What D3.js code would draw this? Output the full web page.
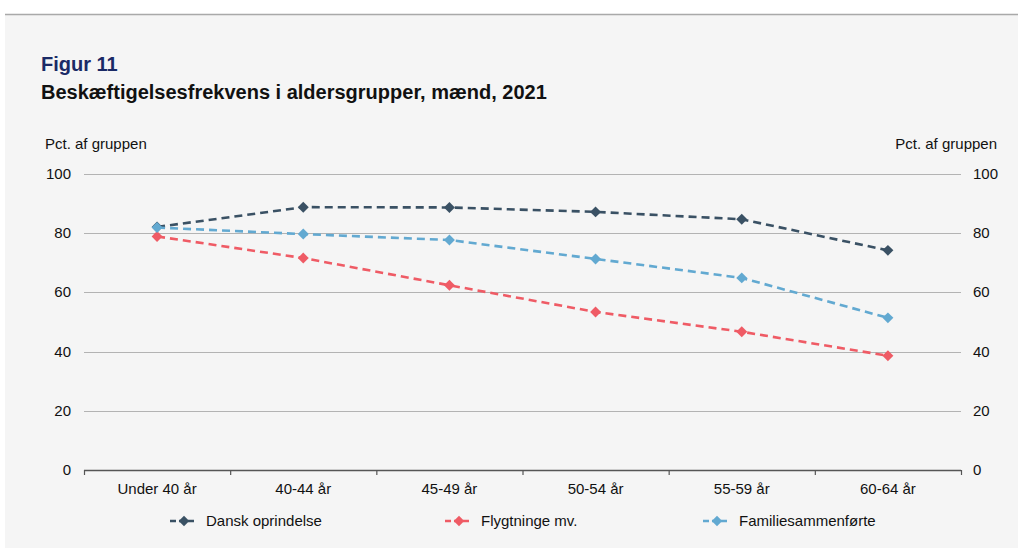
<!DOCTYPE html>
<html><head><meta charset="utf-8">
<script src="https://cdn.jsdelivr.net/npm/d3@7"></script>
<style>
html,body{margin:0;padding:0;background:#fff;}
svg{display:block;font-family:"Liberation Sans",Arial,sans-serif;}
</style></head>
<body>
<svg id="c" width="1018" height="548"></svg>
<script>
const categories = ["Under 40 år","40-44 år","45-49 år","50-54 år","55-59 år","60-64 år"];
const seriesNames = ["Dansk oprindelse","Flygtninge mv.","Familiesammenførte"];
const dansk = [82.1, 88.8, 88.7, 87.2, 84.7, 74.2];
const flygtninge = [78.9, 71.6, 62.4, 53.4, 46.7, 38.6];
const familie = [81.9, 79.7, 77.7, 71.3, 64.9, 51.4];
const yTicks = [0, 20, 40, 60, 80, 100];
const colors = ["#3a5164", "#ef5b65", "#62a9d1"];

const FS = 15;
const svg = d3.select("#c");
svg.append("rect").attr("x",5).attr("y",15).attr("width",1013).attr("height",533).attr("fill","#f5f5f5");
svg.append("line").attr("x1",5).attr("x2",1018).attr("y1",14.5).attr("y2",14.5).attr("stroke","#a9a9a9").attr("stroke-width",1.5);

svg.append("text").attr("x",41).attr("y",71).attr("font-size",20).attr("font-weight","bold").attr("fill","#1a2a66").text("Figur 11");
svg.append("text").attr("x",41).attr("y",99).attr("font-size",20).attr("font-weight","bold").attr("fill","#111").text("Beskæftigelsesfrekvens i aldersgrupper, mænd, 2021");
svg.append("text").attr("x",45).attr("y",149).attr("font-size",FS).attr("fill","#111").text("Pct. af gruppen");
svg.append("text").attr("x",997).attr("y",149).attr("font-size",FS).attr("fill","#111").attr("text-anchor","end").text("Pct. af gruppen");

const x0 = 84, x1 = 961, yTop = 174, yBot = 470;
const x = d3.scaleBand().domain(categories).range([x0, x1]);
const y = d3.scaleLinear().domain([0, 100]).range([yBot, yTop]);

// gridlines
svg.append("g").selectAll("line").data(yTicks.filter(d=>d>0)).join("line")
  .attr("x1",x0).attr("x2",x1).attr("y1",d=>Math.round(y(d))+0.5).attr("y2",d=>Math.round(y(d))+0.5)
  .attr("stroke","#b3b3b3").attr("stroke-width",1.2);

// left & right labels
svg.append("g").selectAll("text").data(yTicks).join("text")
  .attr("x",71).attr("y",d=>y(d)+5).attr("text-anchor","end").attr("font-size",FS).attr("fill","#111").text(d=>d);
svg.append("g").selectAll("text").data(yTicks).join("text")
  .attr("x",973).attr("y",d=>y(d)+5).attr("text-anchor","start").attr("font-size",FS).attr("fill","#111").text(d=>d);

// x axis
const xAxis = d3.axisBottom(x).tickSize(0).tickPadding(0);
const gx = svg.append("g").attr("transform",`translate(0,${yBot})`).call(xAxis);
gx.select(".domain").remove();
gx.selectAll("text").attr("font-size",FS).attr("fill","#111").attr("font-family","Liberation Sans, Arial, sans-serif").attr("dy",null).attr("y",24);
gx.append("line").attr("x1",x0).attr("x2",x1).attr("y1",0.5).attr("y2",0.5).attr("stroke","#555").attr("stroke-width",1.3);
const bounds = categories.map(c=>x(c)).concat([x1]);
gx.selectAll("line.tk").data(bounds).join("line").attr("class","tk")
  .attr("x1",d=>d+0.5).attr("x2",d=>d+0.5).attr("y1",0).attr("y2",5).attr("stroke","#555").attr("stroke-width",1.2);

const cx = c => x(c) + x.bandwidth()/2;
const allSeries = [dansk, flygtninge, familie];
const line = d3.line().x((d,i)=>cx(categories[i])).y(d=>y(d));

allSeries.forEach((vals, si) => {
  const g = svg.append("g");
  g.append("path").attr("d", line(vals)).attr("fill","none").attr("stroke",colors[si])
    .attr("stroke-width",2.6).attr("stroke-dasharray","8,5");
  g.selectAll("path.m").data(vals).join("path").attr("class","m")
    .attr("d", d3.symbol().type(d3.symbolSquare).size(60))
    .attr("transform",(d,i)=>`translate(${cx(categories[i])},${y(d)}) rotate(45)`)
    .attr("fill",colors[si]);
});

// legend
const legX = [170, 445, 703];
seriesNames.forEach((n, i) => {
  const g = svg.append("g").attr("transform",`translate(${legX[i]},521)`);
  g.append("line").attr("x1",0).attr("x2",27).attr("y1",0).attr("y2",0).attr("stroke",colors[i]).attr("stroke-width",2.6).attr("stroke-dasharray","6,3");
  g.append("path").attr("d", d3.symbol().type(d3.symbolSquare).size(55)()).attr("transform","translate(14,0) rotate(45)").attr("fill",colors[i]);
  g.append("text").attr("x",36).attr("y",5).attr("font-size",FS).attr("fill","#111").text(n);
});
</script>
</body></html>
